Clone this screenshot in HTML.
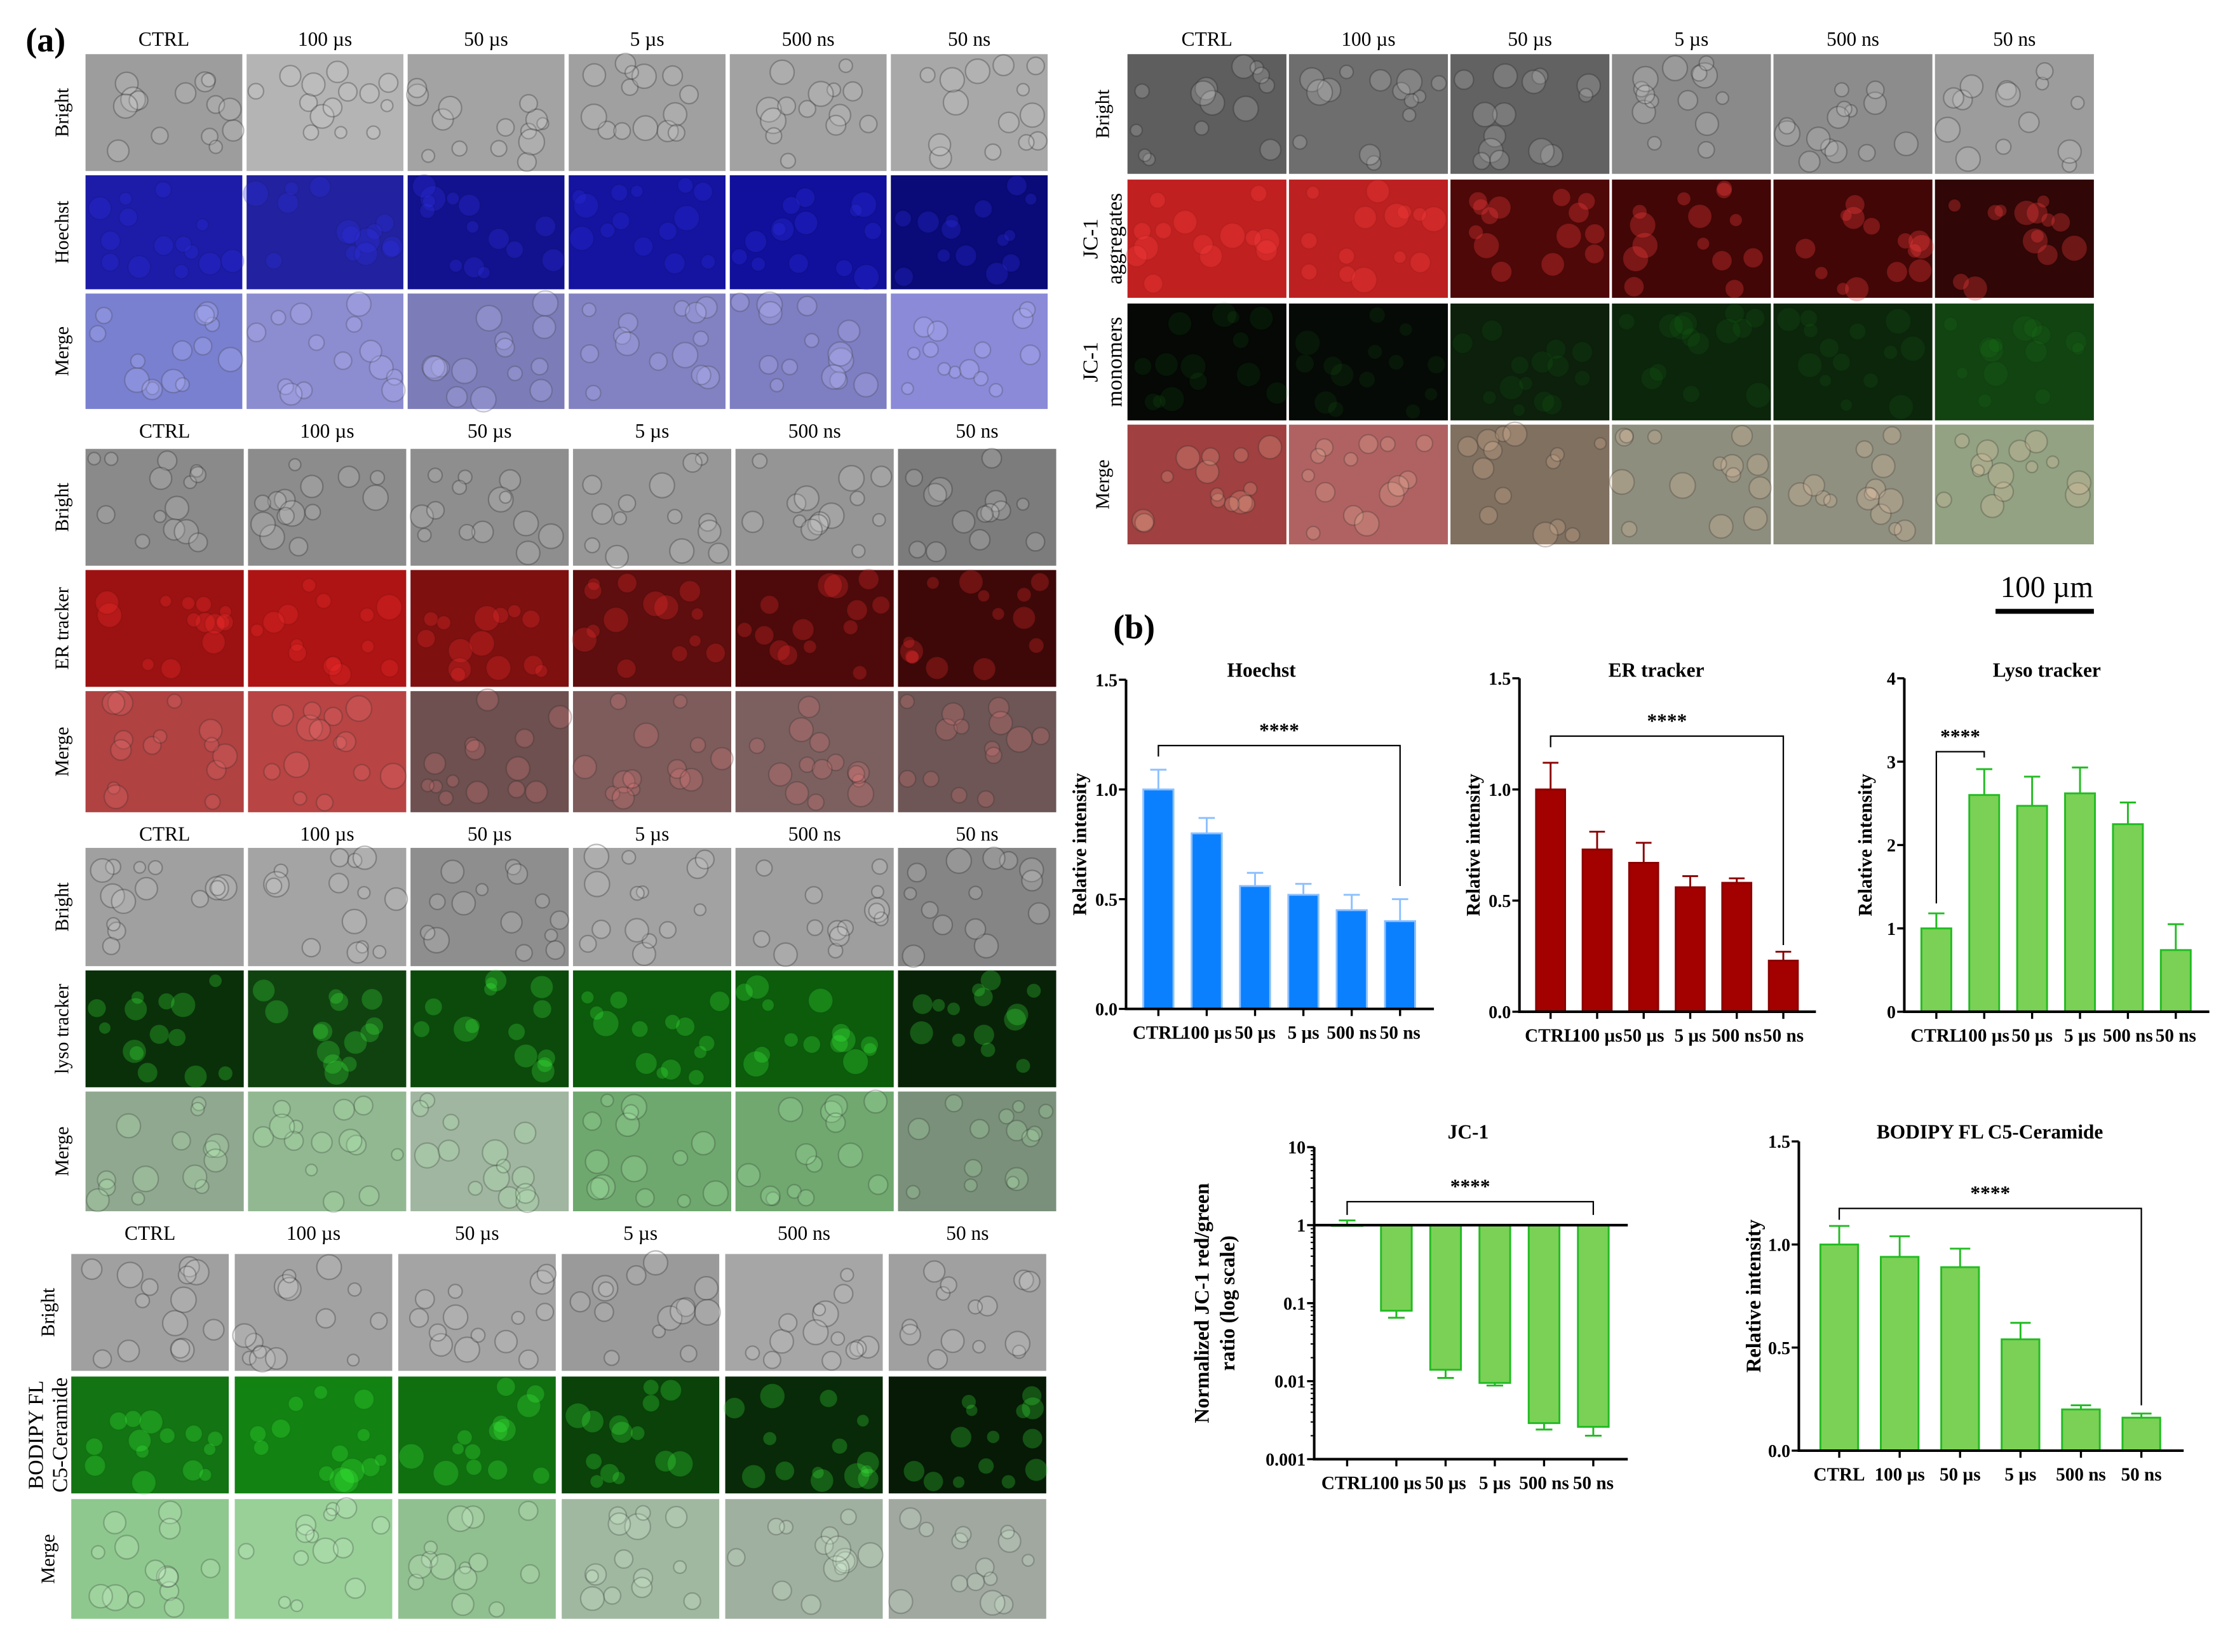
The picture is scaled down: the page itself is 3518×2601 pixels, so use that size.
<!DOCTYPE html>
<html><head><meta charset="utf-8">
<style>
html,body{margin:0;padding:0;background:#fff;}
svg{display:block;}
text{font-family:"Liberation Serif",serif;}
</style></head>
<body>
<svg id="fig" xmlns="http://www.w3.org/2000/svg" width="3518" height="2601" viewBox="0 0 1568 1159.3" preserveAspectRatio="none">
<rect width="1568" height="1160" fill="#fff"/>
<text x="18" y="36" font-size="24" font-weight="bold">(a)</text>
<text x="781" y="448" font-size="24" font-weight="bold">(b)</text>
<text x="1436" y="419" font-size="21" text-anchor="middle">100 µm</text>
<line x1="1400" y1="429" x2="1469" y2="429" stroke="#000" stroke-width="3.5"/>
<g id="micro"></g>
<g id="charts"></g>
</svg>
<script>
const NS="http://www.w3.org/2000/svg";
function mk(tag,attrs,parent){const e=document.createElementNS(NS,tag);for(const k in attrs)e.setAttribute(k,attrs[k]);parent.appendChild(e);return e;}
const micro=document.getElementById('micro');
const heads=["CTRL","100 µs","50 µs","5 µs","500 ns","50 ns"];
// seeded generator for decorative cell texture only
let seed=12345;function rnd(){seed=(seed*1103515245+12345)%2147483648;return seed/2147483648;}
function block(cfg){
  const g=mk('g',{},micro);
  
  
  cfg.cols.forEach((c,i)=>{
    const t=mk('text',{x:c[0]+c[1]/2,y:cfg.hy,'font-size':14,'text-anchor':'middle'},g);
    t.textContent=heads[i];
    
    
  });
  cfg.rows.forEach((r,ri)=>{
    const lab=mk('text',{transform:`translate(${cfg.lx},${r.y+r.h/2}) rotate(-90)`,'font-size':13.5,'text-anchor':'middle'},g);
    if(r.label.length===2){
      lab.setAttribute('font-size',15);
      const t1=mk('tspan',{x:0,dy:-8},lab);t1.textContent=r.label[0];
      const t2=mk('tspan',{x:0,dy:17},lab);t2.textContent=r.label[1];
    } else lab.textContent=r.label[0];
    
    
    cfg.cols.forEach((c,ci)=>{
      const col=r.colors[ci];
      const im=mk('rect',{x:c[0],y:r.y,width:c[1],height:r.h,fill:col},g);
      
      
      const n=14;
      for(let k=0;k<n;k++){
        const cx=c[0]+6+rnd()*(c[1]-12), cy=r.y+6+rnd()*(r.h-12), rr=4+rnd()*5;
        const ci2=mk('circle',{cx:cx,cy:cy,r:rr,fill:r.spot||'#fff','fill-opacity':r.spotOp||0.12,stroke:r.ring||'#333','stroke-opacity':r.ringOp||0.2,'stroke-width':1},g);
        
        
      }
    });
  });
}
function cols(x0,w,gap){const a=[];for(let i=0;i<6;i++)a.push([x0+i*(w+gap),w]);return a;}
const grayRow=(y,h,cs)=>({label:["Bright"],y:y,h:h,colors:cs,spot:'#ddd',spotOp:0.2,ring:'#222',ringOp:0.3});
block({name:'hoechst-images',hy:32,lx:48,cols:cols(60,110,3),rows:[
 grayRow(38,82,["#9d9d9d","#b4b4b4","#a3a3a3","#a0a0a0","#a2a2a2","#a8a8a8"]),
 {label:["Hoechst"],y:123,h:80,colors:["#1c1ca8","#2222a0","#12128e","#1414a0","#10109c","#0a0a78"],spot:'#3030e0',spotOp:0.3,ring:'#000',ringOp:0.08},
 {label:["Merge"],y:206,h:81,colors:["#7a80d0","#8c8cd0","#7c7cb8","#8282c2","#7e7ec2","#8a8ad8"],spot:'#c0c0ff',spotOp:0.25,ring:'#333',ringOp:0.25}
]});
block({name:'er-tracker-images',hy:307,lx:48,cols:cols(60,111,3),rows:[
 grayRow(315,82,["#8a8a8a","#8c8c8c","#8e8e8e","#979797","#959595","#7c7c7c"]),
 {label:["ER tracker"],y:400,h:82,colors:["#9c1212","#ae1414","#7e1010","#5e0e0e","#4e0a0a","#3e0808"],spot:'#ff3030',spotOp:0.25,ring:'#000',ringOp:0.08},
 {label:["Merge"],y:485,h:85,colors:["#b04242","#b84444","#6e5050","#7e5c5c","#7c6060","#6e5656"],spot:'#ff8080',spotOp:0.2,ring:'#222',ringOp:0.25}
]});
block({name:'lyso-tracker-images',hy:590,lx:48,cols:cols(60,111,3),rows:[
 grayRow(595,83,["#a0a0a0","#a4a4a4","#8e8e8e","#a2a2a2","#9e9e9e","#858585"]),
 {label:["lyso tracker"],y:681,h:82,colors:["#0a300a","#104210","#0c4a0c","#0c5a0c","#0c5c0c","#082208"],spot:'#40ff40',spotOp:0.25,ring:'#000',ringOp:0.05},
 {label:["Merge"],y:766,h:84,colors:["#90a890","#92b892","#a0b6a0","#6ea86e","#70a870","#7a907a"],spot:'#c0ffc0',spotOp:0.2,ring:'#222',ringOp:0.25}
]});
block({name:'bodipy-images',hy:870,lx:38,cols:cols(50,110.5,4.2),rows:[
 grayRow(880,82,["#a0a0a0","#a2a2a2","#a4a4a4","#9a9a9a","#a6a6a6","#a0a0a0"]),
 {label:["BODIPY FL","C5-Ceramide"],y:966,h:82,colors:["#127412","#128212","#107010","#0a420a","#082a08","#061a06"],spot:'#40ff40',spotOp:0.25,ring:'#000',ringOp:0.05},
 {label:["Merge"],y:1052,h:84,colors:["#8ec88e","#98d098","#90c090","#a0b8a0","#a0b0a0","#a0a8a0"],spot:'#e0ffe0',spotOp:0.2,ring:'#222',ringOp:0.25}
]});
block({name:'jc1-images',hy:32,lx:778,cols:cols(791,111.5,1.8),rows:[
 grayRow(38,84,["#5e5e5e","#6e6e6e","#626262","#8a8a8a","#8c8c8c","#9c9c9c"]),
 {label:["JC-1","aggregates"],y:126,h:83,colors:["#c02020","#bc2020","#4e0808","#420606","#420606","#300606"],spot:'#ff4040',spotOp:0.3,ring:'#000',ringOp:0.05},
 {label:["JC-1","monomers"],y:213,h:82,colors:["#050805","#060a06","#0c200c","#0c260c","#0c260c","#124412"],spot:'#20a020',spotOp:0.1,ring:'#000',ringOp:0.05},
 {label:["Merge"],y:298,h:84,colors:["#a04040","#b06262","#807060","#8e8e7e","#909080","#92a282"],spot:'#ffd0b0',spotOp:0.2,ring:'#222',ringOp:0.25}
]});

// ===== chart data =====
const categories=["CTRL","100 µs","50 µs","5 µs","500 ns","50 ns"];
const hoechstValues=[1.0,0.80,0.56,0.52,0.45,0.40];
const hoechstErrors=[0.09,0.07,0.06,0.05,0.07,0.10];
const erValues=[1.0,0.73,0.67,0.56,0.58,0.23];
const erErrors=[0.12,0.08,0.09,0.05,0.02,0.04];
const lysoValues=[1.0,2.60,2.47,2.62,2.25,0.74];
const lysoErrors=[0.18,0.31,0.35,0.31,0.26,0.31];
const jc1Values=[1.0,0.080,0.014,0.0095,0.0029,0.0026];
const jc1Errors=[0.15,0.015,0.003,0.0007,0.0005,0.0006];
const bodipyValues=[1.0,0.94,0.89,0.54,0.20,0.16];
const bodipyErrors=[0.09,0.10,0.09,0.08,0.02,0.02];
const linTicks15=["0.0","0.5","1.0","1.5"];
const lysoTicks=["0","1","2","3","4"];
const logTicks=["0.001","0.01","0.1","1","10"];

const charts=document.getElementById('charts');
function drawChart(o){
  const g=mk('g',{},charts);
  
  
  const W=o.x1-o.x0;
  const xc=i=>o.x0+W*(0.105+i*0.157);
  const bw=W*0.098;
  const ys=o.log?(v=>o.yb+(Math.log10(v)-Math.log10(o.min))/(Math.log10(o.max)-Math.log10(o.min))*(o.yt-o.yb))
                :(v=>o.yb+(v-o.min)/(o.max-o.min)*(o.yt-o.yb));
  const t=mk('text',{x:o.tx,y:o.ty,'font-size':14,'font-weight':'bold','text-anchor':'middle'},g);
  t.textContent=o.title;
  
  
  const yl=mk('text',{transform:`translate(${o.ylx},${(o.yt+o.yb)/2}) rotate(-90)`,'font-size':o.ylfs||13.5,'font-weight':'bold','text-anchor':'middle'},g);
  o.ylabel.forEach((s,k)=>{const sp=mk('tspan',{x:0,dy:k===0?0:18},yl);sp.textContent=s;});
  
  
  const base=o.log?1:0;
  o.values.forEach((v,i)=>{
    const yv=ys(v), yb=ys(base);
    const top=Math.min(yv,yb), h=Math.abs(yv-yb);
    const r=mk('rect',{x:xc(i)-bw/2,y:top,width:bw,height:Math.max(h,0.5),fill:o.fill,stroke:o.stroke,'stroke-width':1.3},g);
    
    
    const e=o.errors[i];
    const up=o.log?(v>=1):true;
    const ye=up?ys(v+e):ys(v-e);
    const el=mk('path',{d:`M${xc(i)},${yv}V${ye}M${xc(i)-bw*0.27},${ye}H${xc(i)+bw*0.27}`,stroke:o.err,'stroke-width':1.3,fill:'none'},g);
    
    
  });
  const ax=mk('path',{d:`M${o.x0},${o.yt}V${o.yb}H${o.x1}`,stroke:'#000','stroke-width':1.8,fill:'none'},g);
  
  
  if(o.log){
    const bl=mk('line',{x1:o.x0,x2:o.x1,y1:ys(1),y2:ys(1),stroke:'#000','stroke-width':1.8},g);
    
    
    for(let d=-3;d<1;d++)for(let m=2;m<10;m++){
      const y=ys(m*Math.pow(10,d));
      const mt=mk('line',{x1:o.x0-2.5,x2:o.x0,y1:y,y2:y,stroke:'#000','stroke-width':0.9},g);
      
      
    }
  }
  o.ticks.forEach((s,k)=>{
    const v=o.log?Math.pow(10,k-3):parseFloat(s);
    const y=ys(v);
    const tl=mk('line',{x1:o.x0-5,x2:o.x0,y1:y,y2:y,stroke:'#000','stroke-width':1.5},g);
    
    
    const tt=mk('text',{x:o.x0-6,y:y+4.5,'font-size':12.5,'font-weight':'bold','text-anchor':'end'},g);
    tt.textContent=s;
    
    
  });
  categories.forEach((c,i)=>{
    const yb=o.log?o.yb:ys(0);
    const tl=mk('line',{x1:xc(i),x2:xc(i),y1:yb,y2:yb+5,stroke:'#000','stroke-width':1.5},g);
    
    
    const tt=mk('text',{x:xc(i),y:yb+21,'font-size':13,'font-weight':'bold','text-anchor':'middle'},g);
    tt.textContent=c;
    
    
  });
  const s=o.sig;
  const sy=ys(s.y);
  const br=mk('path',{d:`M${xc(s.a)},${ys(s.la)}V${sy}H${xc(s.b)}V${ys(s.lb)}`,stroke:'#000','stroke-width':1,fill:'none'},g);
  
  
  const st=mk('text',{x:(xc(s.a)+xc(s.b))/2,y:sy-6,'font-size':14,'font-weight':'bold','text-anchor':'middle'},g);
  st.textContent='****';
  
  
}
drawChart({name:'hoechst-chart',title:'Hoechst',tx:885,ty:475,x0:790,x1:1006,yb:708,yt:477,min:0,max:1.5,ticks:linTicks15,
  values:hoechstValues,errors:hoechstErrors,fill:'#0a80ff',stroke:'#8cc0ff',err:'#8cc0ff',ylabel:['Relative intensity'],ylx:762,
  sig:{a:0,b:5,y:1.2,la:1.15,lb:0.56}});
drawChart({name:'er-tracker-chart',title:'ER tracker',tx:1162,ty:475,x0:1066,x1:1274,yb:710,yt:476,min:0,max:1.5,ticks:linTicks15,
  values:erValues,errors:erErrors,fill:'#a30000',stroke:'#8a0000',err:'#8a0000',ylabel:['Relative intensity'],ylx:1038,
  sig:{a:0,b:5,y:1.24,la:1.19,lb:0.3}});
drawChart({name:'lyso-tracker-chart',title:'Lyso tracker',tx:1436,ty:475,x0:1336,x1:1550,yb:710,yt:476,min:0,max:4,ticks:lysoTicks,
  values:lysoValues,errors:lysoErrors,fill:'#7ad155',stroke:'#22bb22',err:'#22bb22',ylabel:['Relative intensity'],ylx:1313,
  sig:{a:0,b:1,y:3.12,la:1.3,lb:3.05}});
drawChart({name:'jc1-chart',title:'JC-1',tx:1030,ty:799,x0:922,x1:1142,yb:1024,yt:805,min:0.001,max:10,log:true,ticks:logTicks,ylfs:14.5,
  values:jc1Values,errors:jc1Errors,fill:'#7ad155',stroke:'#22bb22',err:'#22bb22',ylabel:['Normalized JC-1 red/green','ratio (log scale)'],ylx:848,
  sig:{a:0,b:5,y:2.0,la:1.35,lb:1.35}});
drawChart({name:'bodipy-chart',title:'BODIPY FL C5-Ceramide',tx:1396,ty:799,x0:1262,x1:1532,yb:1018,yt:801,min:0,max:1.5,ticks:linTicks15,ylfs:14.5,
  values:bodipyValues,errors:bodipyErrors,fill:'#7ad155',stroke:'#22bb22',err:'#22bb22',ylabel:['Relative intensity'],ylx:1235,
  sig:{a:0,b:5,y:1.175,la:1.12,lb:0.22}});
</script>
</body></html>
